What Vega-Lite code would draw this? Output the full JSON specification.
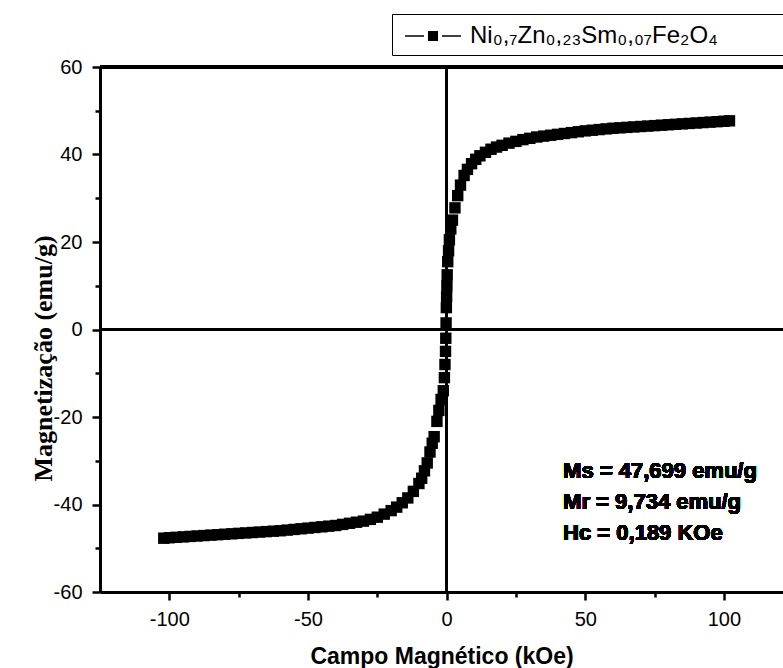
{
  "$schema": "https://vega.github.io/schema/vega-lite/v6.json",
  "width": 683,
  "height": 525,
  "autosize": {"type": "none"},
  "padding": {"left": 100, "top": 67, "right": 0, "bottom": 76},
  "background": "white",
  "view": {"stroke": null},
  "config": {"font": "Liberation Sans"},
  "data": {
    "values": [
      {"campo": -102, "mag": -47.7, "serie": "Ni₀,₇Zn₀,₂₃Sm₀,₀₇Fe₂O₄"},
      {"campo": -100, "mag": -47.6, "serie": "Ni₀,₇Zn₀,₂₃Sm₀,₀₇Fe₂O₄"},
      {"campo": -97.5, "mag": -47.5, "serie": "Ni₀,₇Zn₀,₂₃Sm₀,₀₇Fe₂O₄"},
      {"campo": -95, "mag": -47.4, "serie": "Ni₀,₇Zn₀,₂₃Sm₀,₀₇Fe₂O₄"},
      {"campo": -92.5, "mag": -47.3, "serie": "Ni₀,₇Zn₀,₂₃Sm₀,₀₇Fe₂O₄"},
      {"campo": -90, "mag": -47.2, "serie": "Ni₀,₇Zn₀,₂₃Sm₀,₀₇Fe₂O₄"},
      {"campo": -87.5, "mag": -47.1, "serie": "Ni₀,₇Zn₀,₂₃Sm₀,₀₇Fe₂O₄"},
      {"campo": -85, "mag": -47.0, "serie": "Ni₀,₇Zn₀,₂₃Sm₀,₀₇Fe₂O₄"},
      {"campo": -82.5, "mag": -46.9, "serie": "Ni₀,₇Zn₀,₂₃Sm₀,₀₇Fe₂O₄"},
      {"campo": -80, "mag": -46.8, "serie": "Ni₀,₇Zn₀,₂₃Sm₀,₀₇Fe₂O₄"},
      {"campo": -77.5, "mag": -46.7, "serie": "Ni₀,₇Zn₀,₂₃Sm₀,₀₇Fe₂O₄"},
      {"campo": -75, "mag": -46.6, "serie": "Ni₀,₇Zn₀,₂₃Sm₀,₀₇Fe₂O₄"},
      {"campo": -72.5, "mag": -46.5, "serie": "Ni₀,₇Zn₀,₂₃Sm₀,₀₇Fe₂O₄"},
      {"campo": -70, "mag": -46.4, "serie": "Ni₀,₇Zn₀,₂₃Sm₀,₀₇Fe₂O₄"},
      {"campo": -67.5, "mag": -46.3, "serie": "Ni₀,₇Zn₀,₂₃Sm₀,₀₇Fe₂O₄"},
      {"campo": -65, "mag": -46.2, "serie": "Ni₀,₇Zn₀,₂₃Sm₀,₀₇Fe₂O₄"},
      {"campo": -62.5, "mag": -46.1, "serie": "Ni₀,₇Zn₀,₂₃Sm₀,₀₇Fe₂O₄"},
      {"campo": -60, "mag": -46.0, "serie": "Ni₀,₇Zn₀,₂₃Sm₀,₀₇Fe₂O₄"},
      {"campo": -57.5, "mag": -45.85, "serie": "Ni₀,₇Zn₀,₂₃Sm₀,₀₇Fe₂O₄"},
      {"campo": -55, "mag": -45.7, "serie": "Ni₀,₇Zn₀,₂₃Sm₀,₀₇Fe₂O₄"},
      {"campo": -52.5, "mag": -45.55, "serie": "Ni₀,₇Zn₀,₂₃Sm₀,₀₇Fe₂O₄"},
      {"campo": -50, "mag": -45.4, "serie": "Ni₀,₇Zn₀,₂₃Sm₀,₀₇Fe₂O₄"},
      {"campo": -47.5, "mag": -45.25, "serie": "Ni₀,₇Zn₀,₂₃Sm₀,₀₇Fe₂O₄"},
      {"campo": -45, "mag": -45.1, "serie": "Ni₀,₇Zn₀,₂₃Sm₀,₀₇Fe₂O₄"},
      {"campo": -42.5, "mag": -44.95, "serie": "Ni₀,₇Zn₀,₂₃Sm₀,₀₇Fe₂O₄"},
      {"campo": -40, "mag": -44.8, "serie": "Ni₀,₇Zn₀,₂₃Sm₀,₀₇Fe₂O₄"},
      {"campo": -37.5, "mag": -44.55, "serie": "Ni₀,₇Zn₀,₂₃Sm₀,₀₇Fe₂O₄"},
      {"campo": -35, "mag": -44.3, "serie": "Ni₀,₇Zn₀,₂₃Sm₀,₀₇Fe₂O₄"},
      {"campo": -32.5, "mag": -44.05, "serie": "Ni₀,₇Zn₀,₂₃Sm₀,₀₇Fe₂O₄"},
      {"campo": -30, "mag": -43.8, "serie": "Ni₀,₇Zn₀,₂₃Sm₀,₀₇Fe₂O₄"},
      {"campo": -27.5, "mag": -43.4, "serie": "Ni₀,₇Zn₀,₂₃Sm₀,₀₇Fe₂O₄"},
      {"campo": -25, "mag": -42.9, "serie": "Ni₀,₇Zn₀,₂₃Sm₀,₀₇Fe₂O₄"},
      {"campo": -22.5, "mag": -42.2, "serie": "Ni₀,₇Zn₀,₂₃Sm₀,₀₇Fe₂O₄"},
      {"campo": -20, "mag": -41.4, "serie": "Ni₀,₇Zn₀,₂₃Sm₀,₀₇Fe₂O₄"},
      {"campo": -18, "mag": -40.6, "serie": "Ni₀,₇Zn₀,₂₃Sm₀,₀₇Fe₂O₄"},
      {"campo": -16, "mag": -39.6, "serie": "Ni₀,₇Zn₀,₂₃Sm₀,₀₇Fe₂O₄"},
      {"campo": -14, "mag": -38.5, "serie": "Ni₀,₇Zn₀,₂₃Sm₀,₀₇Fe₂O₄"},
      {"campo": -12, "mag": -37.0, "serie": "Ni₀,₇Zn₀,₂₃Sm₀,₀₇Fe₂O₄"},
      {"campo": -10, "mag": -35.2, "serie": "Ni₀,₇Zn₀,₂₃Sm₀,₀₇Fe₂O₄"},
      {"campo": -9, "mag": -34.0, "serie": "Ni₀,₇Zn₀,₂₃Sm₀,₀₇Fe₂O₄"},
      {"campo": -8, "mag": -32.3, "serie": "Ni₀,₇Zn₀,₂₃Sm₀,₀₇Fe₂O₄"},
      {"campo": -7, "mag": -30.5, "serie": "Ni₀,₇Zn₀,₂₃Sm₀,₀₇Fe₂O₄"},
      {"campo": -6, "mag": -28.0, "serie": "Ni₀,₇Zn₀,₂₃Sm₀,₀₇Fe₂O₄"},
      {"campo": -5.2, "mag": -26.0, "serie": "Ni₀,₇Zn₀,₂₃Sm₀,₀₇Fe₂O₄"},
      {"campo": -4.5, "mag": -24.5, "serie": "Ni₀,₇Zn₀,₂₃Sm₀,₀₇Fe₂O₄"},
      {"campo": -3.5, "mag": -21.0, "serie": "Ni₀,₇Zn₀,₂₃Sm₀,₀₇Fe₂O₄"},
      {"campo": -2.8, "mag": -18.5, "serie": "Ni₀,₇Zn₀,₂₃Sm₀,₀₇Fe₂O₄"},
      {"campo": -2.0, "mag": -16.0, "serie": "Ni₀,₇Zn₀,₂₃Sm₀,₀₇Fe₂O₄"},
      {"campo": -1.2, "mag": -14.0, "serie": "Ni₀,₇Zn₀,₂₃Sm₀,₀₇Fe₂O₄"},
      {"campo": -0.8, "mag": -11.0, "serie": "Ni₀,₇Zn₀,₂₃Sm₀,₀₇Fe₂O₄"},
      {"campo": -0.6, "mag": -8.0, "serie": "Ni₀,₇Zn₀,₂₃Sm₀,₀₇Fe₂O₄"},
      {"campo": -0.4, "mag": -5.0, "serie": "Ni₀,₇Zn₀,₂₃Sm₀,₀₇Fe₂O₄"},
      {"campo": -0.3, "mag": -2.0, "serie": "Ni₀,₇Zn₀,₂₃Sm₀,₀₇Fe₂O₄"},
      {"campo": -0.2, "mag": 1.5, "serie": "Ni₀,₇Zn₀,₂₃Sm₀,₀₇Fe₂O₄"},
      {"campo": -0.1, "mag": 5.0, "serie": "Ni₀,₇Zn₀,₂₃Sm₀,₀₇Fe₂O₄"},
      {"campo": 0, "mag": 7.5, "serie": "Ni₀,₇Zn₀,₂₃Sm₀,₀₇Fe₂O₄"},
      {"campo": 0.1, "mag": 10.0, "serie": "Ni₀,₇Zn₀,₂₃Sm₀,₀₇Fe₂O₄"},
      {"campo": 0.2, "mag": 12.5, "serie": "Ni₀,₇Zn₀,₂₃Sm₀,₀₇Fe₂O₄"},
      {"campo": 0.4, "mag": 15.5, "serie": "Ni₀,₇Zn₀,₂₃Sm₀,₀₇Fe₂O₄"},
      {"campo": 0.7, "mag": 18.0, "serie": "Ni₀,₇Zn₀,₂₃Sm₀,₀₇Fe₂O₄"},
      {"campo": 1.0, "mag": 20.5, "serie": "Ni₀,₇Zn₀,₂₃Sm₀,₀₇Fe₂O₄"},
      {"campo": 1.5, "mag": 23.0, "serie": "Ni₀,₇Zn₀,₂₃Sm₀,₀₇Fe₂O₄"},
      {"campo": 2.1, "mag": 25.0, "serie": "Ni₀,₇Zn₀,₂₃Sm₀,₀₇Fe₂O₄"},
      {"campo": 3.0, "mag": 27.8, "serie": "Ni₀,₇Zn₀,₂₃Sm₀,₀₇Fe₂O₄"},
      {"campo": 4.0, "mag": 30.6, "serie": "Ni₀,₇Zn₀,₂₃Sm₀,₀₇Fe₂O₄"},
      {"campo": 5.0, "mag": 33.0, "serie": "Ni₀,₇Zn₀,₂₃Sm₀,₀₇Fe₂O₄"},
      {"campo": 6.3, "mag": 35.2, "serie": "Ni₀,₇Zn₀,₂₃Sm₀,₀₇Fe₂O₄"},
      {"campo": 7.5, "mag": 36.6, "serie": "Ni₀,₇Zn₀,₂₃Sm₀,₀₇Fe₂O₄"},
      {"campo": 9.0, "mag": 37.9, "serie": "Ni₀,₇Zn₀,₂₃Sm₀,₀₇Fe₂O₄"},
      {"campo": 10.5, "mag": 38.9, "serie": "Ni₀,₇Zn₀,₂₃Sm₀,₀₇Fe₂O₄"},
      {"campo": 12, "mag": 39.7, "serie": "Ni₀,₇Zn₀,₂₃Sm₀,₀₇Fe₂O₄"},
      {"campo": 14, "mag": 40.5, "serie": "Ni₀,₇Zn₀,₂₃Sm₀,₀₇Fe₂O₄"},
      {"campo": 16, "mag": 41.2, "serie": "Ni₀,₇Zn₀,₂₃Sm₀,₀₇Fe₂O₄"},
      {"campo": 18, "mag": 41.7, "serie": "Ni₀,₇Zn₀,₂₃Sm₀,₀₇Fe₂O₄"},
      {"campo": 20, "mag": 42.1, "serie": "Ni₀,₇Zn₀,₂₃Sm₀,₀₇Fe₂O₄"},
      {"campo": 22.5, "mag": 42.6, "serie": "Ni₀,₇Zn₀,₂₃Sm₀,₀₇Fe₂O₄"},
      {"campo": 25, "mag": 43.0, "serie": "Ni₀,₇Zn₀,₂₃Sm₀,₀₇Fe₂O₄"},
      {"campo": 27.5, "mag": 43.4, "serie": "Ni₀,₇Zn₀,₂₃Sm₀,₀₇Fe₂O₄"},
      {"campo": 30, "mag": 43.7, "serie": "Ni₀,₇Zn₀,₂₃Sm₀,₀₇Fe₂O₄"},
      {"campo": 32.5, "mag": 44.0, "serie": "Ni₀,₇Zn₀,₂₃Sm₀,₀₇Fe₂O₄"},
      {"campo": 35, "mag": 44.2, "serie": "Ni₀,₇Zn₀,₂₃Sm₀,₀₇Fe₂O₄"},
      {"campo": 37.5, "mag": 44.4, "serie": "Ni₀,₇Zn₀,₂₃Sm₀,₀₇Fe₂O₄"},
      {"campo": 40, "mag": 44.6, "serie": "Ni₀,₇Zn₀,₂₃Sm₀,₀₇Fe₂O₄"},
      {"campo": 42.5, "mag": 44.8, "serie": "Ni₀,₇Zn₀,₂₃Sm₀,₀₇Fe₂O₄"},
      {"campo": 45, "mag": 45.0, "serie": "Ni₀,₇Zn₀,₂₃Sm₀,₀₇Fe₂O₄"},
      {"campo": 47.5, "mag": 45.2, "serie": "Ni₀,₇Zn₀,₂₃Sm₀,₀₇Fe₂O₄"},
      {"campo": 50, "mag": 45.4, "serie": "Ni₀,₇Zn₀,₂₃Sm₀,₀₇Fe₂O₄"},
      {"campo": 52.5, "mag": 45.55, "serie": "Ni₀,₇Zn₀,₂₃Sm₀,₀₇Fe₂O₄"},
      {"campo": 55, "mag": 45.7, "serie": "Ni₀,₇Zn₀,₂₃Sm₀,₀₇Fe₂O₄"},
      {"campo": 57.5, "mag": 45.85, "serie": "Ni₀,₇Zn₀,₂₃Sm₀,₀₇Fe₂O₄"},
      {"campo": 60, "mag": 46.0, "serie": "Ni₀,₇Zn₀,₂₃Sm₀,₀₇Fe₂O₄"},
      {"campo": 62.5, "mag": 46.1, "serie": "Ni₀,₇Zn₀,₂₃Sm₀,₀₇Fe₂O₄"},
      {"campo": 65, "mag": 46.2, "serie": "Ni₀,₇Zn₀,₂₃Sm₀,₀₇Fe₂O₄"},
      {"campo": 67.5, "mag": 46.3, "serie": "Ni₀,₇Zn₀,₂₃Sm₀,₀₇Fe₂O₄"},
      {"campo": 70, "mag": 46.4, "serie": "Ni₀,₇Zn₀,₂₃Sm₀,₀₇Fe₂O₄"},
      {"campo": 72.5, "mag": 46.5, "serie": "Ni₀,₇Zn₀,₂₃Sm₀,₀₇Fe₂O₄"},
      {"campo": 75, "mag": 46.6, "serie": "Ni₀,₇Zn₀,₂₃Sm₀,₀₇Fe₂O₄"},
      {"campo": 77.5, "mag": 46.7, "serie": "Ni₀,₇Zn₀,₂₃Sm₀,₀₇Fe₂O₄"},
      {"campo": 80, "mag": 46.8, "serie": "Ni₀,₇Zn₀,₂₃Sm₀,₀₇Fe₂O₄"},
      {"campo": 82.5, "mag": 46.9, "serie": "Ni₀,₇Zn₀,₂₃Sm₀,₀₇Fe₂O₄"},
      {"campo": 85, "mag": 47.0, "serie": "Ni₀,₇Zn₀,₂₃Sm₀,₀₇Fe₂O₄"},
      {"campo": 87.5, "mag": 47.1, "serie": "Ni₀,₇Zn₀,₂₃Sm₀,₀₇Fe₂O₄"},
      {"campo": 90, "mag": 47.2, "serie": "Ni₀,₇Zn₀,₂₃Sm₀,₀₇Fe₂O₄"},
      {"campo": 92.5, "mag": 47.3, "serie": "Ni₀,₇Zn₀,₂₃Sm₀,₀₇Fe₂O₄"},
      {"campo": 95, "mag": 47.4, "serie": "Ni₀,₇Zn₀,₂₃Sm₀,₀₇Fe₂O₄"},
      {"campo": 97.5, "mag": 47.5, "serie": "Ni₀,₇Zn₀,₂₃Sm₀,₀₇Fe₂O₄"},
      {"campo": 100, "mag": 47.6, "serie": "Ni₀,₇Zn₀,₂₃Sm₀,₀₇Fe₂O₄"},
      {"campo": 102, "mag": 47.7, "serie": "Ni₀,₇Zn₀,₂₃Sm₀,₀₇Fe₂O₄"}
    ]
  },
  "layer": [
    {
      "mark": {"type": "rule", "color": "black", "strokeWidth": 2},
      "encoding": {"y": {"datum": 0, "type": "quantitative"}}
    },
    {
      "mark": {"type": "rule", "color": "black", "strokeWidth": 2},
      "encoding": {"x": {"datum": 0, "type": "quantitative"}}
    },
    {
      "mark": {"type": "rule", "color": "black", "strokeWidth": 3},
      "encoding": {"y": {"datum": 60, "type": "quantitative"}}
    },
    {
      "mark": {"type": "point", "shape": "square", "filled": true, "opacity": 1, "size": 130, "strokeWidth": 0},
      "encoding": {
        "x": {
          "field": "campo",
          "type": "quantitative",
          "scale": {"domain": [-125, 121.3], "nice": false, "zero": false},
          "axis": {
            "title": "Campo Magnético (kOe)",
            "values": [-100, -75, -50, -25, 0, 25, 50, 75, 100],
            "labelExpr": "datum.value % 50 === 0 ? '' + datum.value : ''",
            "tickSize": {"condition": {"test": "datum.value % 50 !== 0", "value": 5}, "value": 8},
            "tickWidth": 2.5,
            "tickColor": "black",
            "domainColor": "black",
            "domainWidth": 3,
            "grid": false,
            "labelFont": "Liberation Sans",
            "labelFontSize": 20,
            "labelColor": "black",
            "labelPadding": 9,
            "labelFlush": false,
            "labelOverlap": false,
            "titleFont": "Liberation Sans",
            "titleFontSize": 23,
            "titleFontWeight": "bold",
            "titleColor": "black",
            "titleBaseline": "alphabetic",
            "titleY": 71
          }
        },
        "y": {
          "field": "mag",
          "type": "quantitative",
          "scale": {"domain": [-60, 60], "nice": false, "zero": false},
          "axis": {
            "title": "Magnetização (emu/g)",
            "values": [-60, -50, -40, -30, -20, -10, 0, 10, 20, 30, 40, 50, 60],
            "labelExpr": "datum.value % 20 === 0 ? '' + datum.value : ''",
            "tickSize": {"condition": {"test": "datum.value % 20 !== 0", "value": 5}, "value": 8},
            "tickWidth": 2.5,
            "tickColor": "black",
            "domainColor": "black",
            "domainWidth": 3,
            "grid": false,
            "labelFont": "Liberation Sans",
            "labelFontSize": 20,
            "labelColor": "black",
            "labelPadding": 10,
            "labelFlush": false,
            "labelOverlap": false,
            "titleFont": "Liberation Serif",
            "titleFontSize": 26,
            "titleFontWeight": "bold",
            "titleColor": "black",
            "titleAngle": -90,
            "titleAlign": "center",
            "titleBaseline": "alphabetic",
            "titleX": -49,
            "titleY": 291
          }
        },
        "color": {
          "field": "serie",
          "type": "nominal",
          "scale": {"range": ["black"]},
          "legend": {
            "orient": "none",
            "legendX": 292,
            "legendY": -53,
            "title": null,
            "padding": 7,
            "strokeColor": "black",
            "fillColor": "white",
            "cornerRadius": 0,
            "labelFont": "Liberation Sans",
            "labelFontSize": 24,
            "labelColor": "black",
            "labelOffset": 22,
            "labelLimit": 1000,
            "labelExpr": "datum.label + '\u2003\u2003\u2003\u2003\u2003\u2003\u2003\u2003\u2003\u200b'",
            "symbolType": "M-1.867,-0.047H-0.597V0.047H-1.867ZM0.597,-0.047H1.867V0.047H0.597ZM-0.336,-0.336H0.336V0.336H-0.336Z",
            "symbolSize": 900,
            "symbolOffset": 19,
            "symbolFillColor": "black",
            "symbolStrokeWidth": 0
          }
        }
      }
    },
    {
      "mark": {"type": "text", "align": "left", "baseline": "alphabetic", "font": "Liberation Sans", "fontSize": 22, "fontWeight": "bold", "lineHeight": 31, "color": "black"},
      "encoding": {
        "x": {"datum": 42, "type": "quantitative"},
        "y": {"datum": -34, "type": "quantitative"},
        "text": {"value": ["Ms = 47,699 emu/g", "Mr = 9,734 emu/g", "Hc = 0,189 KOe"]}
      }
    }
  ]
}
